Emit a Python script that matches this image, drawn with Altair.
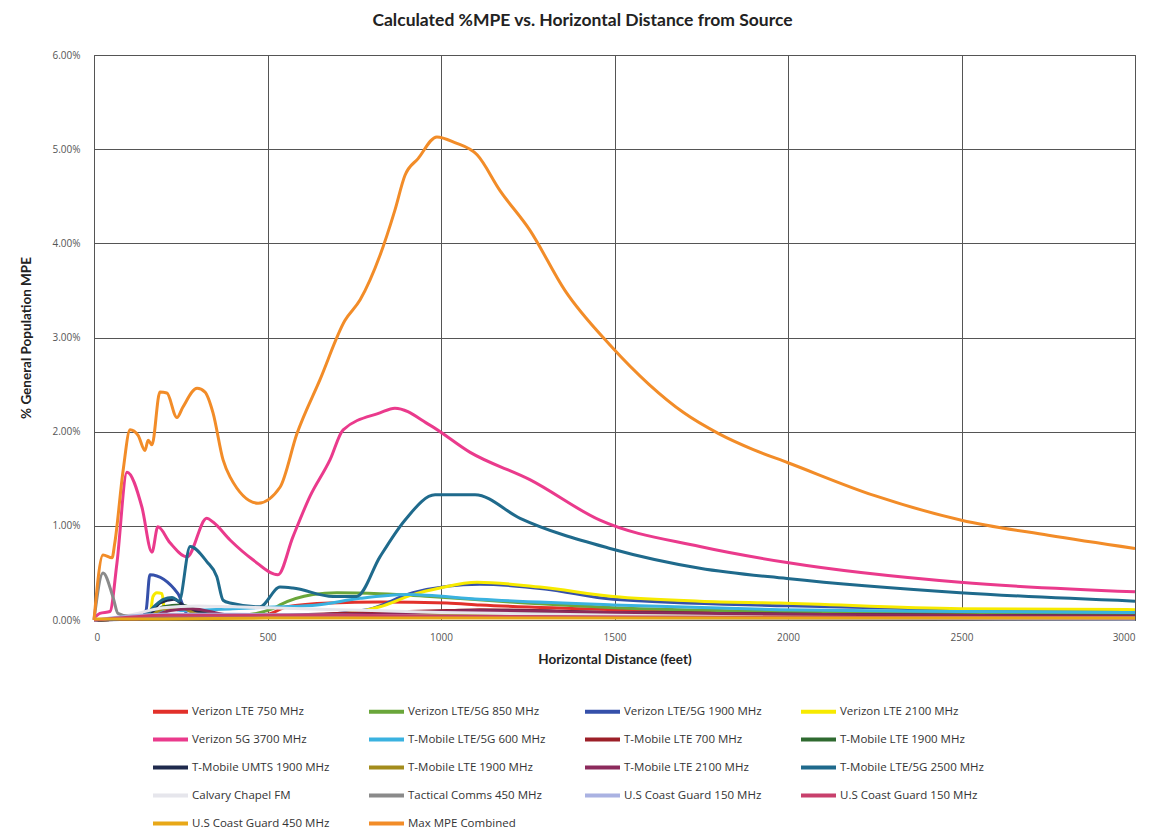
import altair as alt
import pandas as pd

# ---- data (distance in feet, value in % MPE) ----
names = [
    "Verizon LTE 750 MHz", "Verizon LTE/5G 850 MHz", "Verizon LTE/5G 1900 MHz", "Verizon LTE 2100 MHz",
    "Verizon 5G 3700 MHz", "T-Mobile LTE/5G 600 MHz", "T-Mobile LTE 700 MHz", "T-Mobile LTE 1900 MHz",
    "T-Mobile UMTS 1900 MHz", "T-Mobile LTE 1900 MHz\u200b", "T-Mobile LTE 2100 MHz", "T-Mobile LTE/5G 2500 MHz",
    "Calvary Chapel FM", "Tactical Comms 450 MHz", "U.S Coast Guard 150 MHz", "U.S Coast Guard 150 MHz\u200b",
    "U.S Coast Guard 450 MHz", "Max MPE Combined",
]
colors = [
    "#e2302a", "#6aa63a", "#3550aa", "#f7ea00",
    "#ea3a8c", "#3ab2e0", "#9c1f28", "#2f6a30",
    "#1f2a4d", "#a38c1c", "#8c2a5c", "#1f6a8c",
    "#e6e6ec", "#8a8a8a", "#aab2e2", "#c8406c",
    "#e8a818", "#f28c28",
]

vz750_x = [0, 200, 400, 500, 556, 680, 824, 1017, 1112, 1500, 2000, 2500, 3000]
vz750_y = [0, 0.02, 0.03, 0.06, 0.14, 0.18, 0.19, 0.18, 0.16, 0.11, 0.08, 0.06, 0.05]

vz850_x = [0, 200, 400, 516, 536, 631, 700, 824, 968, 1200, 1500, 2000, 2500, 3000]
vz850_y = [0, 0.03, 0.04, 0.12, 0.16, 0.27, 0.29, 0.28, 0.25, 0.19, 0.13, 0.09, 0.07, 0.06]

vz1900_x = [0, 130, 150, 161, 242, 270, 400, 600, 787, 919, 1112, 1300, 1496, 2000, 2500, 3000]
vz1900_y = [0, 0.01, 0.10, 0.48, 0.28, 0.06, 0.04, 0.05, 0.11, 0.29, 0.38, 0.33, 0.22, 0.15, 0.11, 0.09]

vz2100_x = [0, 160, 170, 181, 196, 205, 300, 500, 700, 824, 919, 997, 1104, 1285, 1496, 1746, 1977, 2496, 3000]
vz2100_y = [0, 0.02, 0.25, 0.29, 0.28, 0.05, 0.04, 0.04, 0.06, 0.14, 0.27, 0.34, 0.40, 0.35, 0.25, 0.20, 0.18, 0.12, 0.11]

vz3700_x = [0, 17, 46, 66, 95, 138, 167, 184, 219, 268, 325, 343, 392, 458, 530, 573, 622, 680, 718, 824, 867,
            968, 1084, 1256, 1458, 1746, 1997, 2496, 3000]
vz3700_y = [0.02, 0.07, 0.09, 0.60, 1.57, 1.20, 0.72, 0.99, 0.82, 0.67, 1.08, 1.04, 0.85, 0.64, 0.48, 0.88, 1.31,
            1.70, 2.02, 2.20, 2.25, 2.07, 1.78, 1.49, 1.06, 0.78, 0.61, 0.40, 0.30]

tm600_x = [0, 150, 190, 210, 250, 400, 536, 643, 767, 902, 1112, 1496, 1977, 2496, 3000]
tm600_y = [0, 0.02, 0.08, 0.14, 0.10, 0.12, 0.14, 0.16, 0.23, 0.27, 0.22, 0.16, 0.11, 0.09, 0.08]

tm700_x = [0, 200, 500, 775, 1017, 1112, 1500, 2000, 3000]
tm700_y = [0, 0.02, 0.04, 0.08, 0.10, 0.11, 0.08, 0.06, 0.04]

tm1900a_x = [0, 150, 200, 250, 300, 400, 700, 1000, 1100, 1500, 2000, 3000]
tm1900a_y = [0, 0.03, 0.14, 0.16, 0.10, 0.05, 0.04, 0.08, 0.09, 0.07, 0.05, 0.03]

tmumts_x = [0, 150, 190, 230, 270, 400, 800, 1000, 1100, 1500, 2000, 3000]
tmumts_y = [0, 0.02, 0.18, 0.22, 0.12, 0.03, 0.03, 0.08, 0.10, 0.08, 0.06, 0.04]

tm1900b_x = [0, 150, 200, 250, 300, 500, 1000, 1500, 2000, 3000]
tm1900b_y = [0, 0.02, 0.12, 0.13, 0.06, 0.03, 0.06, 0.05, 0.04, 0.03]

tm2100_x = [0, 150, 220, 280, 400, 800, 1000, 1100, 1500, 2000, 3000]
tm2100_y = [0, 0.02, 0.10, 0.12, 0.05, 0.06, 0.09, 0.10, 0.08, 0.06, 0.04]

tm2500_x = [0, 100, 150, 175, 200, 225, 245, 277, 325, 354, 372, 392, 478, 536, 573, 689, 757, 824, 896, 983,
            1098, 1228, 1487, 1746, 1997, 2496, 3000]
tm2500_y = [0, 0.02, 0.06, 0.15, 0.22, 0.24, 0.20, 0.78, 0.62, 0.46, 0.21, 0.18, 0.14, 0.35, 0.34, 0.25, 0.25,
            0.67, 1.06, 1.33, 1.33, 1.08, 0.76, 0.55, 0.44, 0.29, 0.20]

fm_x = [0, 100, 200, 300, 400, 600, 800, 1000, 1500, 2000, 3000]
fm_y = [0, 0.05, 0.13, 0.15, 0.14, 0.12, 0.10, 0.08, 0.05, 0.03, 0.02]

tac_x = [0, 26, 55, 69, 100, 300, 600, 1000, 2000, 3000]
tac_y = [0, 0.50, 0.24, 0.07, 0.04, 0.04, 0.03, 0.03, 0.02, 0.01]

cg150a_x = [0, 100, 200, 400, 700, 1000, 2000, 3000]
cg150a_y = [0, 0.04, 0.06, 0.06, 0.05, 0.04, 0.02, 0.01]

cg150b_x = [0, 100, 200, 400, 700, 1000, 2000, 3000]
cg150b_y = [0, 0.03, 0.05, 0.05, 0.05, 0.04, 0.03, 0.02]

cg450_x = [0, 200, 500, 1000, 2000, 3000]
cg450_y = [0.01, 0.01, 0.02, 0.02, 0.02, 0.02]

max_x = [0, 26, 52, 60, 84, 104, 127, 147, 156, 167, 190, 210, 239, 256, 297, 320, 343, 372, 392, 473, 536, 585,
         651, 723, 767, 824, 867, 896, 934, 988, 1040, 1104, 1170, 1256, 1357, 1487, 1600, 1700, 1800, 1900, 2000,
         2250, 2500, 2750, 3000]
max_y = [0, 0.69, 0.66, 0.82, 1.59, 2.02, 1.96, 1.80, 1.91, 1.86, 2.42, 2.41, 2.15, 2.26, 2.46, 2.42, 2.20, 1.70,
         1.52, 1.24, 1.41, 1.98, 2.55, 3.18, 3.40, 3.87, 4.35, 4.72, 4.90, 5.13, 5.07, 4.94, 4.56, 4.14, 3.50, 2.92,
         2.50, 2.20, 1.98, 1.81, 1.67, 1.32, 1.06, 0.90, 0.76]

series_xy = [
    (vz750_x, vz750_y), (vz850_x, vz850_y), (vz1900_x, vz1900_y), (vz2100_x, vz2100_y),
    (vz3700_x, vz3700_y), (tm600_x, tm600_y), (tm700_x, tm700_y), (tm1900a_x, tm1900a_y),
    (tmumts_x, tmumts_y), (tm1900b_x, tm1900b_y), (tm2100_x, tm2100_y), (tm2500_x, tm2500_y),
    (fm_x, fm_y), (tac_x, tac_y), (cg150a_x, cg150a_y), (cg150b_x, cg150b_y),
    (cg450_x, cg450_y), (max_x, max_y),
]

rows = []
for i, (name, (xs, ys)) in enumerate(zip(names, series_xy)):
    for x, y in zip(xs, ys):
        rows.append({"series": name, "order": i, "distance": x, "mpe": y})
df = pd.DataFrame(rows)

FONT = "Open Sans"

chart = alt.Chart(df).mark_line(strokeWidth=3, interpolate="monotone").encode(
    x=alt.X("distance:Q",
            scale=alt.Scale(domain=[0, 3000], nice=False),
            axis=alt.Axis(values=[0, 500, 1000, 1500, 2000, 2500, 3000], title="Horizontal Distance (feet)",
                          format="d", ticks=False, labelPadding=12, titlePadding=10, domain=False,
                          gridColor="#555555", gridWidth=1)),
    y=alt.Y("mpe:Q",
            scale=alt.Scale(domain=[0, 6], nice=False),
            axis=alt.Axis(values=[0, 1, 2, 3, 4, 5, 6], title="% General Population MPE",
                          labelExpr="format(datum.value, '.2f') + '%'",
                          ticks=False, labelPadding=14, titlePadding=18, domain=False,
                          gridColor="#555555", gridWidth=1)),
    color=alt.Color("series:N",
                    scale=alt.Scale(domain=names, range=colors),
                    sort=names,
                    legend=alt.Legend(title=None, orient="none", legendX=57, legendY=637,
                                      columns=4, symbolType="stroke", symbolSize=1225,
                                      symbolStrokeWidth=4, labelFontSize=11.5, labelFont=FONT,
                                      labelColor="#333333", columnPadding=31, rowPadding=-0.3,
                                      labelOffset=2, direction="horizontal")),
    order=alt.Order("order:Q"),
).properties(
    width=1041,
    height=565,
    title=alt.TitleParams("Calculated %MPE vs. Horizontal Distance from Source",
                          font="Lato", fontSize=17.5, fontWeight="bold", color="#222222",
                          anchor="middle", dx=-32, offset=21),
    autosize=alt.AutoSizeParams(type="none"),
    padding={"left": 86, "top": 47, "right": 7, "bottom": 211},
).configure_view(
    stroke="#555555", strokeWidth=1
).configure_axis(
    labelFont=FONT, labelFontSize=10, labelColor="#555555",
    titleFont="Lato", titleFontSize=13.5, titleFontWeight="bold", titleColor="#222222",
)

chart.save("out.html", embed_options={"renderer": "svg", "actions": False})
